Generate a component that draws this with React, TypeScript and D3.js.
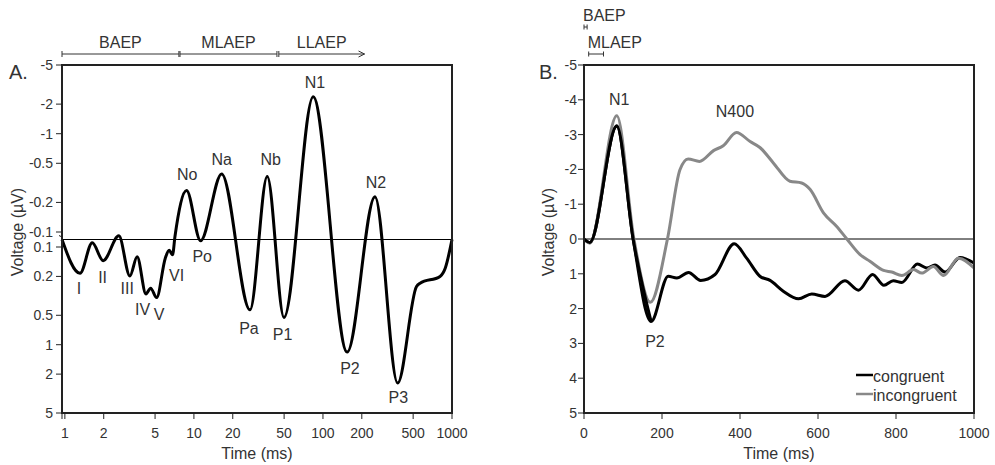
import React from "react";
import * as d3 from "d3";

const W = 995;
const H = 465;
const FONT = "'Liberation Sans', Arial, sans-serif";
const TXT = "#333";

// ---- Panel A: AEP on log time / split log voltage axes
const aTime = [0.95, 1.31, 1.63, 1.98, 2.62, 3.19, 3.63, 4.25, 4.62, 5.14, 6.0, 6.43, 6.83, 7.13, 8.77, 11.26, 16.4, 27.2, 37.0, 49.9, 84.0, 154, 253, 379, 531, 566, 808, 886, 1000];
const aVolt = [0, 0.186, 0.043, 0.138, -0.05, 0.198, 0.126, 0.302, 0.264, 0.329, 0.13, 0.108, 0.12, -0.04, -0.264, 0.016, -0.39, 0.44, -0.367, 0.526, -2.37, 1.19, -0.229, 2.47, 0.254, 0.235, 0.2, 0.165, 0];
const aTickTime = [1, 2, 5, 10, 20, 50, 100, 200, 500, 1000];
const aTickVolt = [-5, -2, -1, -0.5, -0.2, -0.1, 0.1, 0.2, 0.5, 1, 2, 5];
const aPeakName = ["I", "II", "III", "IV", "V", "VI", "No", "Po", "Na", "Pa", "Nb", "P1", "N1", "P2", "N2", "P3"];
const aPeakTime = [1.284, 1.96, 3.04, 4.0, 5.38, 7.34, 8.87, 11.6, 16.4, 26.7, 39.3, 48.7, 86.7, 161.9, 257.6, 383.5];
const aPeakVolt = [0.264, 0.204, 0.264, 0.44, 0.494, 0.198, -0.382, 0.126, -0.552, 0.676, -0.552, 0.79, -3.34, 1.77, -0.318, 3.5];
const aRangeName = ["BAEP", "MLAEP", "LLAEP"];
const aRangeStart = [0.95, 7.8, 45.5];
const aRangeEnd = [7.65, 44, 210];

// ---- Panel B: N400 experiment, linear axes
const bTime = [0, 15, 84, 126, 172, 216, 238, 268, 299, 336, 385, 417, 451, 477, 511, 550, 584, 618, 669, 704, 740, 769, 793, 815, 855, 879, 900, 926, 964, 1000];
const bCongruent = [0, 0.1, -3.25, 0, 2.37, 1.07, 1.12, 0.96, 1.19, 1.02, 0.14, 0.55, 1.07, 1.19, 1.5, 1.72, 1.58, 1.65, 1.2, 1.47, 1.02, 1.33, 1.2, 1.25, 0.72, 0.83, 0.75, 0.95, 0.53, 0.69];
const bTimeInc = [0, 15, 84, 128, 170, 214, 246, 267, 296, 332, 357, 391, 426, 451, 486, 528, 558, 580, 614, 648, 674, 708, 733, 768, 789, 815, 845, 866, 896, 922, 960, 1000];
const bIncongruent = [0, 0.12, -3.54, 0, 1.82, 0, -1.99, -2.3, -2.23, -2.54, -2.68, -3.06, -2.8, -2.63, -2.18, -1.66, -1.61, -1.42, -0.75, -0.36, 0, 0.45, 0.64, 0.9, 0.95, 1.05, 0.88, 0.98, 0.79, 1.05, 0.55, 0.83];
const bTickTime = [0, 200, 400, 600, 800, 1000];
const bTickVolt = [-5, -4, -3, -2, -1, 0, 1, 2, 3, 4, 5];
const bPeakName = ["N1", "N400", "P2"];
const bPeakTime = [90.5, 387, 182];
const bPeakVolt = [-4.02, -3.65, 2.94];
const bRangeName = ["BAEP", "MLAEP"];
const bRangeStart = [0, 12];
const bRangeEnd = [8, 50];
const bSeries = ["congruent", "incongruent"];
const bColors = ["#000", "#888"];

// scales, panel A
const xA = d3.scaleLog().domain([0.95, 1000]).range([62, 452]);
const yNeg = d3.scaleLog().domain([0.1, 5]).range([232, 65]);
const yPos = d3.scaleLog().domain([0.1, 5]).range([247, 413]);
const yMid = d3.scaleLinear().domain([-0.1, 0.1]).range([232, 247]);
const yA = (v: number) => (v <= -0.1 ? yNeg(-v) : v >= 0.1 ? yPos(v) : yMid(v));

// scales, panel B
const xB = d3.scaleLinear().domain([0, 1000]).range([584, 974]);
const yB = d3.scaleLinear().domain([-5, 5]).range([65, 413]);

const lineA = d3
  .line<number>()
  .x((_, i) => xA(aTime[i]))
  .y((v) => yA(v))
  .curve(d3.curveMonotoneX);

const lineB = (times: number[]) =>
  d3
    .line<number>()
    .x((_, i) => xB(times[i]))
    .y((v) => yB(v))
    .curve(d3.curveMonotoneX);

const Bracket = ({ x0, x1, y, cap, arrow }: { x0: number; x1: number; y: number; cap: number; arrow?: boolean }) => (
  <g stroke="#333" strokeWidth={1} fill="none">
    <line x1={x0} x2={x1} y1={y} y2={y} />
    <line x1={x0} x2={x0} y1={y - cap} y2={y + cap} />
    {arrow ? (
      <path d={`M${x1 - 6},${y - 3} L${x1},${y} L${x1 - 6},${y + 3}`} />
    ) : (
      <line x1={x1} x2={x1} y1={y - cap} y2={y + cap} />
    )}
  </g>
);

export default function App() {
  const [ax0, ax1] = xA.range();
  const [bx0, bx1] = xB.range();
  const top = 65;
  const bottom = 413;
  return (
    <svg
      width={W}
      height={H}
      style={{ position: "absolute", left: 0, top: 0, background: "#fff" }}
      fontFamily={FONT}
    >
      {/* ===== Panel A ===== */}
      {aRangeName.map((n, i) => {
        const x0 = xA(aRangeStart[i]);
        const x1 = xA(aRangeEnd[i]);
        return (
          <g key={n}>
            <Bracket x0={x0} x1={x1} y={54} cap={3} arrow={i === aRangeName.length - 1} />
            <text x={(x0 + x1) / 2} y={42} fontSize={16} fill={TXT} textAnchor="middle" dominantBaseline="central">
              {n}
            </text>
          </g>
        );
      })}
      <text x={9} y={72} fontSize={20} fill={TXT} dominantBaseline="central">A.</text>

      <line x1={ax0} x2={ax1} y1={yA(0)} y2={yA(0)} stroke="#000" strokeWidth={1} />
      <path d={lineA(aVolt) || ""} fill="none" stroke="#000" strokeWidth={3} strokeLinejoin="round" />
      <rect x={ax0} y={top} width={ax1 - ax0} height={bottom - top} fill="none" stroke="#222" strokeWidth={2} />
      <path d={`M${ax0 - 3},${yA(0) - 4} L${ax0},${yA(0) - 2.5} L${ax0},${yA(0) + 1}`} fill="none" stroke="#222" strokeWidth={1} />

      {aTickVolt.map((v) => (
        <g key={v} transform={`translate(0,${yA(v)})`}>
          <line x1={ax0 - 6} x2={ax0} stroke="#222" strokeWidth={1} />
          <text x={ax0 - 9} fontSize={14} fill={TXT} textAnchor="end" dominantBaseline="central">
            {String(v)}
          </text>
        </g>
      ))}
      <line x1={ax0} x2={ax0} y1={bottom} y2={bottom + 6} stroke="#222" strokeWidth={1} />
      {aTickTime.map((t) => (
        <g key={t} transform={`translate(${xA(t)},0)`}>
          <line y1={bottom} y2={bottom + 6} stroke="#222" strokeWidth={1} />
          <text y={433} fontSize={14} fill={TXT} textAnchor="middle" dominantBaseline="central">
            {t}
          </text>
        </g>
      ))}
      <text x={(ax0 + ax1) / 2} y={453} fontSize={16} fill={TXT} textAnchor="middle" dominantBaseline="central">
        Time (ms)
      </text>
      <text transform={`translate(17,232) rotate(-90)`} fontSize={16} fill={TXT} textAnchor="middle" dominantBaseline="central">
        Voltage (µV)
      </text>
      {aPeakName.map((n, i) => (
        <text key={n} x={xA(aPeakTime[i])} y={yA(aPeakVolt[i])} fontSize={16} fill={TXT} textAnchor="middle" dominantBaseline="central">
          {n}
        </text>
      ))}

      {/* ===== Panel B ===== */}
      {bRangeName.map((n, i) => {
        const x0 = xB(bRangeStart[i]);
        const x1 = xB(bRangeEnd[i]);
        const y = 27 + i * 27;
        return (
          <g key={n}>
            <Bracket x0={x0} x1={x1} y={y} cap={2.5} />
            <text x={x0 - 1} y={y - 12} fontSize={16} fill={TXT} dominantBaseline="central">
              {n}
            </text>
          </g>
        );
      })}
      <text x={539} y={72} fontSize={20} fill={TXT} dominantBaseline="central">B.</text>

      <line x1={bx0} x2={bx1} y1={yB(0)} y2={yB(0)} stroke="#000" strokeWidth={1} />
      <path d={lineB(bTime)(bCongruent) || ""} fill="none" stroke={bColors[0]} strokeWidth={3} strokeLinejoin="round" />
      <path d={lineB(bTimeInc)(bIncongruent) || ""} fill="none" stroke={bColors[1]} strokeWidth={3} strokeLinejoin="round" />
      <path d={lineB(bTime)(bCongruent.slice(0, 5)) || ""} fill="none" stroke={bColors[0]} strokeWidth={3} strokeLinejoin="round" />
      <rect x={bx0} y={top} width={bx1 - bx0} height={bottom - top} fill="none" stroke="#222" strokeWidth={2} />

      {bTickVolt.map((v) => (
        <g key={v} transform={`translate(0,${yB(v)})`}>
          <line x1={bx0 - 6} x2={bx0} stroke="#222" strokeWidth={1} />
          <text x={bx0 - 7} fontSize={14} fill={TXT} textAnchor="end" dominantBaseline="central">
            {String(v)}
          </text>
        </g>
      ))}
      {bTickTime.map((t) => (
        <g key={t} transform={`translate(${xB(t)},0)`}>
          <line y1={bottom} y2={bottom + 6} stroke="#222" strokeWidth={1} />
          <text y={433} fontSize={14} fill={TXT} textAnchor="middle" dominantBaseline="central">
            {t}
          </text>
        </g>
      ))}
      <text x={(bx0 + bx1) / 2} y={453} fontSize={16} fill={TXT} textAnchor="middle" dominantBaseline="central">
        Time (ms)
      </text>
      <text transform={`translate(548,232) rotate(-90)`} fontSize={16} fill={TXT} textAnchor="middle" dominantBaseline="central">
        Voltage (µV)
      </text>
      {bPeakName.map((n, i) => (
        <text key={n} x={xB(bPeakTime[i])} y={yB(bPeakVolt[i])} fontSize={16} fill={TXT} textAnchor="middle" dominantBaseline="central">
          {n}
        </text>
      ))}

      {bSeries.map((s, i) => (
        <g key={s} transform={`translate(856,${375 + i * 19})`}>
          <line x1={0} x2={17} stroke={bColors[i]} strokeWidth={2.5} />
          <text x={17} y={1} fontSize={16} fill={TXT} dominantBaseline="central">
            {s}
          </text>
        </g>
      ))}
    </svg>
  );
}
